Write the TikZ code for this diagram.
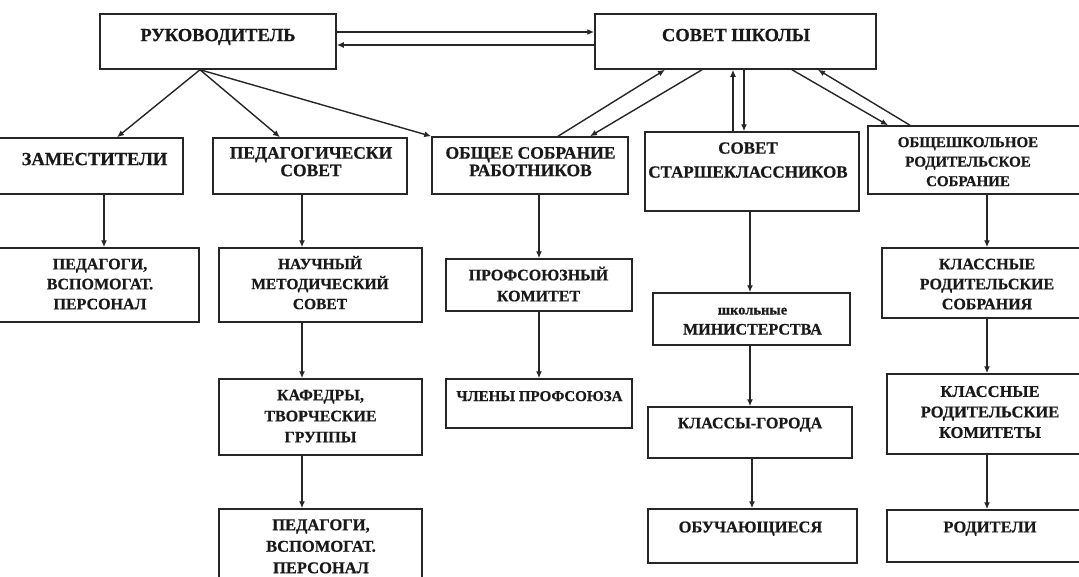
\documentclass[tikz,border=0pt]{standalone}
\usepackage{fontspec}
\setmainfont{Liberation Serif}[BoldFeatures={FakeBold=0.6}]
\usetikzlibrary{arrows.meta}
\begin{document}
\begin{tikzpicture}[x=1pt,y=-1pt,
  box/.style={draw=black!85, line width=1.5pt, inner sep=0pt},
  tx/.style={align=center, inner sep=0pt, text=black!90},
  fs/.style 2 args={font=\bfseries\fontsize{#1}{#2}\selectfont},
  arr/.style={draw=black!85, line width=1.4pt, -{Latex[length=7pt,width=6pt]}}]
\useasboundingbox (0,0) rectangle (1079,576);
\clip (0,0) rectangle (1079,576);
\fill[white] (0,0) rectangle (1079,576);

% boxes
\node[box, minimum width=236pt, minimum height=55pt] (rk) at (218,41.5) {};
\node[box, minimum width=281pt, minimum height=55pt] (ss) at (735.5,41.5) {};
\node[box, minimum width=186pt, minimum height=56pt] (zam) at (90,166) {};
\node[box, minimum width=194pt, minimum height=56pt] (ped) at (310,166) {};
\node[box, minimum width=196pt, minimum height=57pt] (obs) at (530,165.5) {};
\node[box, minimum width=214pt, minimum height=79pt] (sst) at (752,171.5) {};
\node[box, minimum width=217pt, minimum height=68pt] (ors) at (976.5,160) {};
\node[box, minimum width=202pt, minimum height=74pt] (pp1) at (98,285) {};
\node[box, minimum width=203pt, minimum height=74pt] (nms) at (320.5,285) {};
\node[box, minimum width=203pt, minimum height=76pt] (kaf) at (320.5,417) {};
\node[box, minimum width=203pt, minimum height=81pt] (pp2) at (320.5,549.5) {};
\node[box, minimum width=186pt, minimum height=52pt] (prk) at (539,285) {};
\node[box, minimum width=186pt, minimum height=49pt] (chp) at (539,403.5) {};
\node[box, minimum width=197pt, minimum height=52pt] (min) at (751.5,319) {};
\node[box, minimum width=204pt, minimum height=51pt] (kg) at (750,432.5) {};
\node[box, minimum width=209pt, minimum height=54pt] (obu) at (752.5,536) {};
\node[box, minimum width=210pt, minimum height=70pt] (krs) at (987,283) {};
\node[box, minimum width=205pt, minimum height=80pt] (krk) at (989.5,414) {};
\node[box, minimum width=205pt, minimum height=52pt] (rod) at (989.5,536) {};

% texts
\node[tx, fs={18.5}{20}] (rkt) at (218,37.1) {\strut РУКОВОДИТЕЛЬ};
\node[tx, fs={18.5}{20}] (sst0) at (736,37.1) {\strut СОВЕТ ШКОЛЫ};
\node[tx, fs={18.5}{20}] (zamt) at (94.5,161.1) {\strut ЗАМЕСТИТЕЛИ};
\node[tx, fs={17.5}{17.5}] (pedt) at (311,163.9) {\strut ПЕДАГОГИЧЕСКИ\\\strut СОВЕТ};
\node[tx, fs={17.5}{17.5}] (obst) at (530.5,163.9) {\strut ОБЩЕЕ СОБРАНИЕ\\\strut РАБОТНИКОВ};
\node[tx, fs={17}{24}] (sstt) at (748,160.8) {\strut СОВЕТ\\\strut СТАРШЕКЛАССНИКОВ};
\node[tx, fs={15}{19.5}] (orst) at (968,162.7) {\strut ОБЩЕШКОЛЬНОЕ\\\strut РОДИТЕЛЬСКОЕ\\\strut СОБРАНИЕ};
\node[tx, fs={16}{20}] (pp1t) at (100,285.3) {\strut ПЕДАГОГИ,\\\strut ВСПОМОГАТ.\\\strut ПЕРСОНАЛ};
\node[tx, fs={15.5}{20}] (nmst) at (320,285.1) {\strut НАУЧНЫЙ\\\strut МЕТОДИЧЕСКИЙ\\\strut СОВЕТ};
\node[tx, fs={16}{21}] (kaft) at (320.5,417.1) {\strut КАФЕДРЫ,\\\strut ТВОРЧЕСКИЕ\\\strut ГРУППЫ};
\node[tx, fs={16.5}{21.5}] (pp2t) at (321,547.4) {\strut ПЕДАГОГИ,\\\strut ВСПОМОГАТ.\\\strut ПЕРСОНАЛ};
\node[tx, fs={16}{21}] (prkt) at (538.5,286.6) {\strut ПРОФСОЮЗНЫЙ\\\strut КОМИТЕТ};
\node[tx, fs={15}{20}] (chpt) at (539.5,397) {\strut ЧЛЕНЫ ПРОФСОЮЗА};
\node[tx, fs={14.5}{16}, anchor=base] (mint1) at (752.5,314.5) {школьные};
\node[tx, fs={16}{20}, anchor=base] (mint2) at (752.5,334.5) {МИНИСТЕРСТВА};
\node[tx, fs={16}{20}] (kgt) at (750,424.3) {\strut КЛАССЫ-ГОРОДА};
\node[tx, fs={16.5}{20}] (obut) at (750.5,528.4) {\strut ОБУЧАЮЩИЕСЯ};
\node[tx, fs={16}{20}] (krst) at (987,285.3) {\strut КЛАССНЫЕ\\\strut РОДИТЕЛЬСКИЕ\\\strut СОБРАНИЯ};
\node[tx, fs={16.5}{20.5}] (krkt) at (990,413.3) {\strut КЛАССНЫЕ\\\strut РОДИТЕЛЬСКИЕ\\\strut КОМИТЕТЫ};
\node[tx, fs={16.5}{20}] (rodt) at (990,528.4) {\strut РОДИТЕЛИ};

% top links
\coordinate (a1) at ([yshift=9.5pt]rk.east);
\coordinate (a2) at ([yshift=-3.5pt]ss.west);
\draw[arr] (a1) -- (a1 -| ss.west);
\draw[arr] (a2) -- (a2 -| rk.east);

% fan from head
\coordinate (h) at ([xshift=-18pt]rk.south);
\draw[arr] (h) -- ([xshift=27pt]zam.north);
\draw[arr] (h) -- ([xshift=-30pt]ped.north);
\draw[arr] (h) -- (obs.north west);

% school council links
\draw[arr] ([xshift=28pt]obs.north) -- ([xshift=-70.5pt]ss.south);
\draw[arr] ([xshift=-33.5pt]ss.south) -- ([xshift=60pt]obs.north);
\coordinate (b1) at ([xshift=-19pt]sst.north);
\coordinate (b2) at ([xshift=-8pt]sst.north);
\draw[arr] (b1) -- (b1 |- ss.south);
\draw[arr] (b2 |- ss.south) -- (b2);
\draw[arr] ([xshift=56.5pt]ss.south) -- ([xshift=-88.5pt]ors.north);
\draw[arr] ([xshift=-66.5pt]ors.north) -- ([xshift=82.5pt]ss.south);

% vertical chains
\coordinate (v1) at ([xshift=14pt]zam.south);
\draw[arr] (v1) -- (v1 |- pp1.north);
\coordinate (v2) at ([xshift=-8pt]ped.south);
\draw[arr] (v2) -- (v2 |- nms.north);
\coordinate (v3) at ([xshift=-18.5pt]nms.south);
\draw[arr] (v3) -- (v3 |- kaf.north);
\coordinate (v4) at ([xshift=-18.5pt]kaf.south);
\draw[arr] (v4) -- (v4 |- pp2.north);
\coordinate (v5) at ([xshift=9pt]obs.south);
\draw[arr] (v5) -- (v5 |- prk.north);
\draw[arr] (prk.south) -- (chp.north);
\coordinate (v6) at ([xshift=-2pt]sst.south);
\draw[arr] (v6) -- (v6 |- min.north);
\coordinate (v7) at ([xshift=-1.5pt]min.south);
\draw[arr] (v7) -- (v7 |- kg.north);
\coordinate (v8) at ([xshift=2pt]kg.south);
\draw[arr] (v8) -- (v8 |- obu.north);
\coordinate (v9) at ([xshift=10.5pt]ors.south);
\draw[arr] (v9) -- (v9 |- krs.north);
\draw[arr] (krs.south) -- (krs.south |- krk.north);
\coordinate (v10) at ([xshift=-2.5pt]krk.south);
\draw[arr] (v10) -- (v10 |- rod.north);
\end{tikzpicture}
\end{document}
